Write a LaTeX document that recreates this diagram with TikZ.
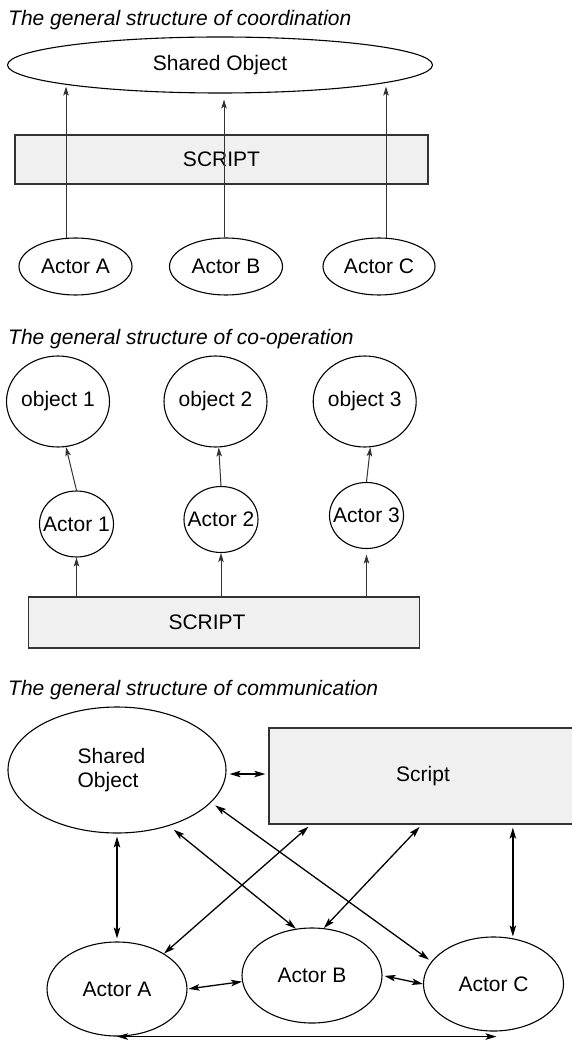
\documentclass[tikz,border=0pt]{standalone}
\usepackage{fontspec}
\setmainfont{Liberation Sans}
\usetikzlibrary{shapes.geometric,arrows.meta,calc}
% text that does not widen the ellipse around it
\newcommand{\zb}[1]{\makebox[0pt]{#1}}
\begin{document}
\begin{tikzpicture}[x=1pt,y=-1pt,
  font=\fontsize{21}{24}\selectfont,
  ell/.style={draw=black, line width=1.1pt, ellipse, inner sep=0pt},
  grbox/.style={draw=black!80, fill=black!6, line width=1.3pt, inner sep=0pt},
  ttl/.style={anchor=base west, font=\fontsize{21}{24}\selectfont\itshape, inner sep=0pt},
  uparr/.style={draw=black!80, line width=1pt, -{Stealth[length=9pt,width=5.5pt,inset=2pt]}},
  two/.style={draw=black, line width=1.3pt, {Stealth[length=11pt,width=6.5pt,inset=2.5pt]}-{Stealth[length=11pt,width=6.5pt,inset=2.5pt]}},
]
\useasboundingbox (0,0) rectangle (571,1040);

% ---------- coordination ----------
\node[ttl] (t1) at (8,26) {The general structure of coordination};
\node[ell, minimum width=425, minimum height=56] (sobj) at (220,65) {Shared Object};
\node[grbox, minimum width=413, minimum height=49] (scr1) at (221.5,159.5) {SCRIPT};
\node[ell, minimum width=113, minimum height=57] (actA) at (75.5,266.5) {\zb{Actor A}};
\node[ell, minimum width=113, minimum height=57] (actB) at (226,266.5) {\zb{Actor B}};
\node[ell, minimum width=112, minimum height=57] (actC) at (379,266.5) {\zb{Actor C}};
\draw[uparr] ($(actA.north)+(-9.5,0.4)$) -- ($(actA.north |- sobj.south)+(-9.5,-7)$);
\draw[uparr] ($(actB.north)+(-2,0)$) -- ($(actB.north |- sobj.south)+(-2,6)$);
\draw[uparr] ($(actC.north)+(7,0.3)$) -- ($(actC.north |- sobj.south)+(7,-7)$);

% ---------- co-operation ----------
\node[ttl] (t2) at (8,344) {The general structure of co-operation};
\node[ell, minimum width=103, minimum height=91] (obj1) at (58,401.5) {\zb{object 1}};
\node[ell, minimum width=103, minimum height=91] (obj2) at (215.5,401.5) {\zb{object 2}};
\node[ell, minimum width=103, minimum height=91] (obj3) at (364.7,401.5) {\zb{object 3}};
\node[ell, minimum width=74, minimum height=66] (act1) at (76.5,524) {\zb{Actor 1}};
\node[ell, minimum width=74, minimum height=66] (act2) at (221,519.5) {\zb{Actor 2}};
\node[ell, minimum width=74, minimum height=66] (act3) at (366.5,515.5) {\zb{Actor 3}};
\node[grbox, minimum width=391, minimum height=51] (scr2) at (224,622.5) {\hspace*{-34pt}SCRIPT};
\draw[uparr] (act1.north) -- (obj1.280);
\draw[uparr] (act2.north) -- (obj2.274);
\draw[uparr] (act3.north) -- (obj3.277);
\draw[uparr] (act1.south |- scr2.north) -- (act1.south);
\draw[uparr] (act2.south |- scr2.north) -- (act2.south);
\draw[uparr] (act3.south |- scr2.north) -- ($(act3.south)+(0,5.5)$);

% ---------- communication ----------
\node[ttl] (t3) at (8,695) {The general structure of communication};
\node[ell, minimum width=218, minimum height=126, align=left] (sobj3) at (117,770) {Shared\\Object\hspace*{18pt}};
\node[grbox, minimum width=308, minimum height=96] (scr3) at (423,776) {Script};
\node[ell, minimum width=140, minimum height=94] (actA3) at (117,989) {Actor A};
\node[ell, minimum width=140, minimum height=95] (actB3) at (312,975.5) {Actor B};
\node[ell, minimum width=140, minimum height=94] (actC3) at (493.5,984) {Actor C};

\coordinate (sa) at ($(scr3.south west)+(42.4,0)$);
\coordinate (sb) at ($(scr3.south west)+(153.4,0)$);
\coordinate (sc) at ($(scr3.south west)+(244.5,0)$);

\draw[two] ($(sobj3.east)+(3,4)$) -- ($(sobj3.east -| scr3.west)+(-3,4)$);
\draw[two, shorten <=3pt, shorten >=3pt] (sobj3.south) -- (actA3.north);
\draw[two, shorten <=6pt] (sobj3.313) -- (actB3.109);
\draw[two, shorten <=5pt, shorten >=3pt] (sobj3.341) -- (actC3.160);
\draw[two, shorten <=3pt] (sa) -- (actA3.37);
\draw[two, shorten <=3pt] (sb) -- (actB3.76);
\draw[two, shorten <=3pt, shorten >=2pt] (sc) -- (sc |- actC3.66);
\draw[two, shorten <=1pt] (actA3.east) -- (actB3.185);
\draw[two, shorten <=2pt] (actB3.east) -- (actC3.west);
\draw[two] (actA3.south) -- ($(actA3.south -| actC3.south)+(3,0)$);
\end{tikzpicture}
\end{document}
